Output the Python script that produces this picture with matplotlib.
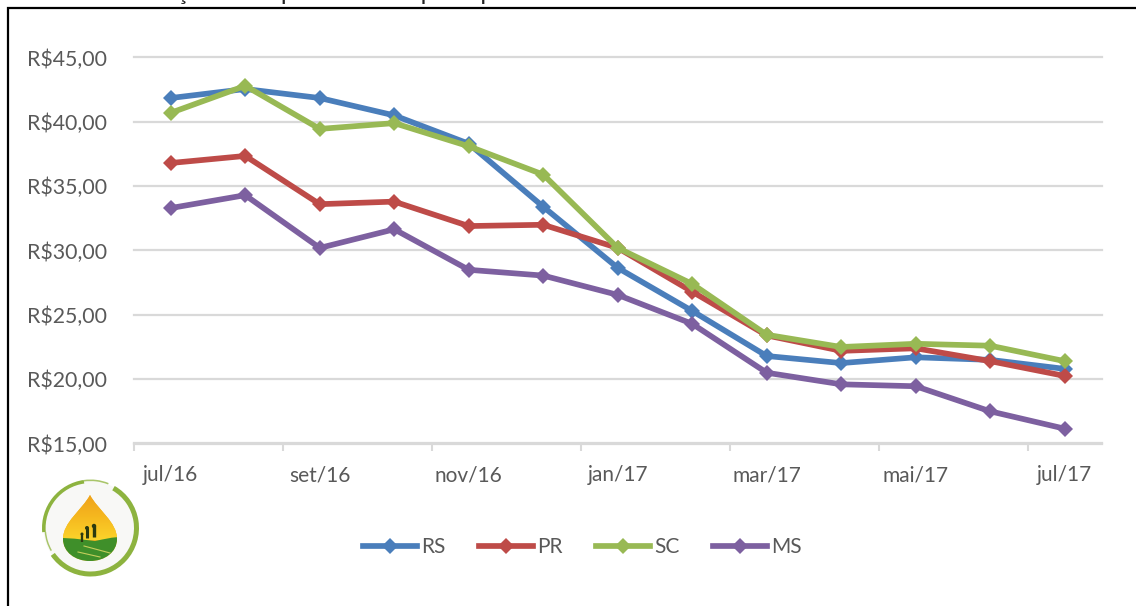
#!/usr/bin/env python3
"""Preco medio por saca nos principais estados, jul/16 a jul/17."""

import matplotlib
matplotlib.use("Agg")
import matplotlib.pyplot as plt
import numpy as np
from matplotlib.lines import Line2D
from matplotlib.patches import Circle, PathPatch, Wedge
from matplotlib.path import Path

months = ["jul/16", "ago/16", "set/16", "out/16", "nov/16", "dez/16", "jan/17",
          "fev/17", "mar/17", "abr/17", "mai/17", "jun/17", "jul/17"]
rs = [41.85, 42.55, 41.85, 40.50, 38.30, 33.40, 28.65, 25.30, 21.80, 21.25, 21.70, 21.50, 20.80]
pr = [36.80, 37.35, 33.60, 33.80, 31.90, 32.00, 30.20, 26.80, 23.40, 22.20, 22.40, 21.40, 20.25]
sc = [40.70, 42.80, 39.45, 39.90, 38.10, 35.90, 30.20, 27.40, 23.45, 22.50, 22.75, 22.60, 21.40]
ms = [33.30, 34.30, 30.20, 31.65, 28.50, 28.05, 26.55, 24.30, 20.50, 19.60, 19.45, 17.50, 16.15]
y_ticks = [15, 20, 25, 30, 35, 40, 45]
title = "Gráfico 1 – Preço médio por saca nos principais estados brasileiros"

WIDTH, HEIGHT = 1136, 606
GREY = "#595959"
plt.rcParams["font.family"] = ["Lato", "DejaVu Sans"]

figure = plt.figure(figsize=(WIDTH / 100, HEIGHT / 100), dpi=100)


def fx(px):
    return px / WIDTH


def fy(py):
    return 1 - py / HEIGHT


axis = figure.add_axes([fx(133.5), fy(443.5), fx(1102 - 133.5), (443.5 - 57.5) / HEIGHT])
x = np.arange(len(months))
for values, name, color in ((rs, "RS", "#4A7EBB"), (pr, "PR", "#BE4B48"),
                            (sc, "SC", "#98B954"), (ms, "MS", "#7D60A0")):
    axis.plot(x, values, color=color, linewidth=4.1, marker="D", markersize=8.6,
              markeredgewidth=0, label=name, solid_joinstyle="round", zorder=3, clip_on=False)

axis.set_xlim(-0.5, len(months) - 0.5)
axis.set_ylim(15, 45)
axis.set_yticks(y_ticks, [f"R${tick},00" for tick in y_ticks])
axis.set_xticks(x[::2], months[::2])
axis.set_xticks(x[::2] - 0.5, minor=True)
axis.tick_params(axis="y", length=0, pad=19, labelsize=15.3, labelcolor=GREY)
axis.tick_params(axis="x", which="major", length=0, pad=15.5, labelsize=15, labelcolor=GREY)
axis.tick_params(axis="x", which="minor", length=5, width=1.5, color="#D9D9D9")
axis.grid(True, axis="y", color="#D9D9D9", linewidth=1.6, zorder=0, clip_on=False)
axis.set_axisbelow(True)
for side in ("top", "right", "left"):
    axis.spines[side].set_visible(False)
axis.spines["bottom"].set_color("#D9D9D9")
axis.spines["bottom"].set_linewidth(1.6)

handles, labels = axis.get_legend_handles_labels()
figure.legend(handles, labels, loc="center", bbox_to_anchor=(fx(582.5), fy(547)), ncol=4,
              frameon=False, fontsize=15, labelcolor=GREY, handlelength=2.6,
              handletextpad=0.2, columnspacing=1.6, borderpad=0)

# caption of the source page, cut off by the top edge of the picture
figure.text(fx(14), fy(0.4), title, fontsize=17.6, color="#222222", va="baseline", ha="left")

# black frame, open on the right and at the bottom
figure.add_artist(Line2D([fx(8), fx(8), 1], [0, fy(8), fy(8)], color="black", linewidth=1.6,
                         solid_joinstyle="miter"))

# logo
logo = figure.add_axes([0, 0, 1, 1], zorder=5)
logo.axis("off")
logo.patch.set_alpha(0)
center = (90.5, 528)
logo.add_patch(Circle(center, 47, facecolor="#F8F8F6", edgecolor="none"))
ring_color = "#8DB33F"
logo.add_patch(Wedge(center, 48.5, -60, 145, width=5.0, facecolor=ring_color, edgecolor="none"))
logo.add_patch(Wedge(center, 46, 150, 175, width=1.5, facecolor="#A9C56A", edgecolor="none"))
logo.add_patch(Wedge(center, 48.5, 175, 262, width=3.6, facecolor=ring_color, edgecolor="none"))
logo.add_patch(Wedge(center, 48.5, 262, 292, width=1.6, facecolor="#A9C56A", edgecolor="none"))

drop_path = Path(
    [(90, 495), (82, 510), (63, 522), (63, 539), (63, 552), (75, 561), (90, 561),
     (105, 561), (117, 552), (117, 539), (117, 522), (98, 510), (90, 495)],
    [Path.MOVETO] + [Path.CURVE4] * 12,
)
field_path = Path(
    [(58, 538), (75, 538), (85, 540), (95, 541), (105, 539), (112, 537), (122, 537),
     (122, 565), (58, 565), (58, 538)],
    [Path.MOVETO] + [Path.CURVE4] * 6 + [Path.LINETO] * 3,
)
logo.add_patch(PathPatch(drop_path, facecolor="#F4B41F", edgecolor="none", zorder=1))
gradient = np.linspace(0, 1, 64)[:, None]
image = logo.imshow(gradient, extent=(60, 120, 540, 495), aspect="auto", zorder=2,
                    cmap=matplotlib.colors.LinearSegmentedColormap.from_list(
                        "drop", ["#EFA21B", "#F6B91F", "#FBD32B"]))
image.set_clip_path(PathPatch(drop_path, transform=logo.transData))
field = PathPatch(field_path, facecolor="#3F8F2A", edgecolor="none", zorder=3)
logo.add_patch(field)
field.set_clip_path(PathPatch(drop_path, transform=logo.transData))
for head_x, head_y, size in ((82, 534, 1.5), (87, 528, 2.0), (94, 526, 2.2)):
    logo.add_patch(Circle((head_x, head_y), size, facecolor="#2B3A10", edgecolor="none", zorder=4))
    logo.plot([head_x, head_x], [head_y, head_y + size * 5], color="#2B3A10",
              linewidth=size * 1.1, solid_capstyle="butt", zorder=4)
logo.plot([78, 100], [552, 557], color="#C5CE5C", linewidth=0.8, zorder=4)
logo.plot([84, 110], [546, 553], color="#C5CE5C", linewidth=0.8, zorder=4)
logo.set_xlim(0, WIDTH)
logo.set_ylim(HEIGHT, 0)

figure.savefig("out.png", dpi=100)
